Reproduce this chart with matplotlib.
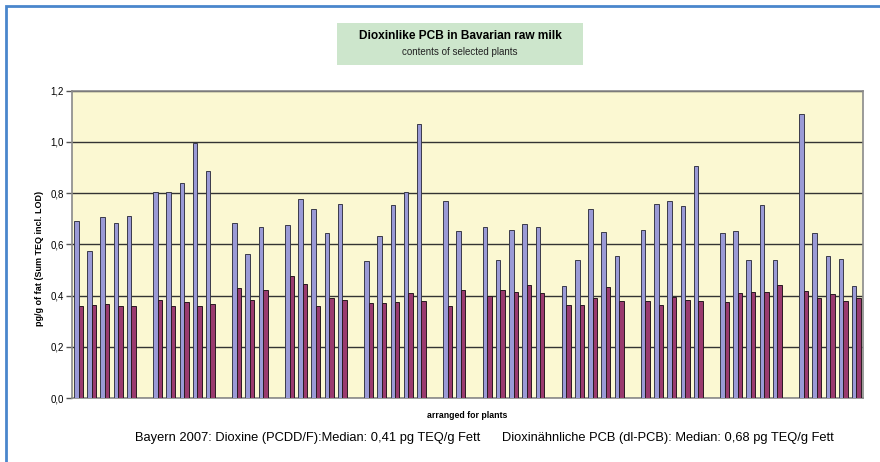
import matplotlib
matplotlib.use('Agg')
import matplotlib.pyplot as plt
from matplotlib.patches import Rectangle
import numpy as np

plt.rcParams['font.family'] = ['Liberation Sans', 'DejaVu Sans']

# values per plant, one list per group of plants
pcb_groups = [
    [0.692, 0.573, 0.705, 0.685, 0.710],
    [0.806, 0.803, 0.838, 0.997, 0.886],
    [0.685, 0.564, 0.668],
    [0.675, 0.779, 0.738, 0.643, 0.758],
    [0.534, 0.634, 0.753, 0.805, 1.070],
    [0.768, 0.653],
    [0.668, 0.539, 0.657, 0.678, 0.668],
    [0.439, 0.539, 0.738, 0.649, 0.553],
    [0.657, 0.758, 0.771, 0.751, 0.905],
    [0.643, 0.653, 0.539, 0.753, 0.539],
    [1.108, 0.643, 0.556, 0.544, 0.439],
]
dioxin_groups = [
    [0.361, 0.365, 0.369, 0.359, 0.359],
    [0.383, 0.359, 0.376, 0.359, 0.369],
    [0.429, 0.383, 0.420],
    [0.477, 0.445, 0.361, 0.390, 0.383],
    [0.370, 0.370, 0.374, 0.409, 0.380],
    [0.361, 0.422],
    [0.399, 0.422, 0.414, 0.442, 0.409],
    [0.364, 0.364, 0.390, 0.435, 0.377],
    [0.379, 0.364, 0.395, 0.383, 0.379],
    [0.374, 0.409, 0.414, 0.414, 0.442],
    [0.419, 0.390, 0.406, 0.379, 0.390],
]
y_ticks = [0.0, 0.2, 0.4, 0.6, 0.8, 1.0, 1.2]
y_ticklabels = ['0,0', '0,2', '0,4', '0,6', '0,8', '1,0', '1,2']

# slot positions: one empty slot between groups
pos = []
slot = 0
for g in pcb_groups:
    for _ in g:
        pos.append(slot)
        slot += 1
    slot += 1
n_slots = slot - 1
pos = np.array(pos)
pcb = np.concatenate(pcb_groups)
dioxin = np.concatenate(dioxin_groups)

fig = plt.figure(figsize=(8.8, 4.62), dpi=100)
ax = fig.add_axes([72/880, 1-398/462, (863-72)/880, (398-90.7)/462])
ax.set_facecolor('#FBF8D2')

w = 0.34
ax.bar(pos - w/2, pcb, w, color='#9A9AD6', edgecolor='#3a3a4a', linewidth=0.7, zorder=3)
ax.bar(pos + w/2, dioxin, w, color='#9A3A6E', edgecolor='#2a1a22', linewidth=0.7, zorder=3)

ax.set_xlim(-0.5, n_slots - 0.5)
ax.set_ylim(0, 1.2)
ax.set_yticks(y_ticks)
ax.set_yticklabels(y_ticklabels, fontsize=7)
ax.set_xticks([])
ax.yaxis.grid(True, color='#333333', linewidth=1.0, zorder=1)
ax.set_axisbelow(True)
ax.tick_params(axis='y', length=4, width=1, color='#555555', pad=2)
for s in ax.spines.values():
    s.set_color('#8a8a8a')
    s.set_linewidth(1.2)

fig.text(40/880, 1-258/462, 'pg/g of fat (Sum TEQ incl. LOD)', rotation=90,
         fontsize=6.5, fontweight='bold', ha='center', va='center')
fig.text(467/880, 1-415/462, 'arranged for plants', fontsize=6.3,
         fontweight='bold', ha='center', va='center')
fig.text(484/880, 1-438/462,
         'Bayern 2007: Dioxine (PCDD/F):Median: 0,41 pg TEQ/g Fett      '
         'Dioxinähnliche PCB (dl-PCB): Median: 0,68 pg TEQ/g Fett',
         fontsize=9.3, ha='center', va='center')

# title box
fig.patches.append(Rectangle((337/880, 1-65/462), (583-337)/880, (65-23)/462,
                             transform=fig.transFigure, facecolor='#CDE6CC',
                             edgecolor='none', zorder=0))
fig.text(460/880, 1-36/462, 'Dioxinlike PCB in Bavarian raw milk', fontsize=8.6,
         fontweight='bold', ha='center', va='center')
fig.text(460/880, 1-52/462, 'contents of selected plants', fontsize=7,
         ha='center', va='center', color='#222222')

# blue frame
fig.patches.append(Rectangle((6/880, -0.1), 1.2, 1.1 - 6.5/462,
                             transform=fig.transFigure, facecolor='none',
                             edgecolor='#4A86CC', linewidth=2, zorder=0))

fig.savefig('out.png', dpi=100)
